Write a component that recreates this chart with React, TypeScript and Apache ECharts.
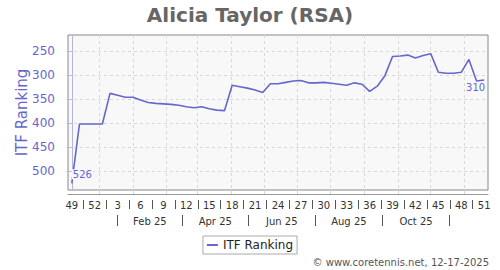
import React, { useEffect, useRef } from 'react';
import * as echarts from 'echarts';

// ---- data ----
const weekLabels = [
  '49', '50', '51', '52',
  '1', '2', '3', '4', '5', '6', '7', '8', '9', '10',
  '11', '12', '13', '14', '15', '16', '17', '18', '19', '20',
  '21', '22', '23', '24', '25', '26', '27', '28', '29', '30',
  '31', '32', '33', '34', '35', '36', '37', '38', '39', '40',
  '41', '42', '43', '44', '45', '46', '47', '48', '49', '50', '51',
];

const itfRanking = [
  526, 402, 402, 402, 402, 338, 342, 346, 346, 352,
  357, 359, 360, 361, 363, 366, 368, 366, 370, 373,
  374, 321, 324, 327, 331, 336, 318, 318, 315, 312,
  311, 316, 316, 315, 317, 319, 321, 316, 319, 334,
  323, 301, 261, 260, 258, 264, 259, 255, 294, 296,
  296, 294, 267, 312, 310,
];

const yTicks = [250, 300, 350, 400, 450, 500];
const yMin = 216;
const yMax = 540;

// date of the first weekly point, used to place month marks on the week scale
const firstWeekDate = '2024-11-20';
const monthGridDates = [
  '2024-12-15', '2025-01-15', '2025-02-15', '2025-03-15', '2025-04-15', '2025-05-15',
  '2025-06-15', '2025-07-15', '2025-08-15', '2025-09-15', '2025-10-15', '2025-11-15',
];
const monthBandStarts = ['2025-01-01', '2025-03-01', '2025-05-01', '2025-07-01', '2025-09-01', '2025-11-01'];
const monthBandLabels = ['Feb 25', 'Apr 25', 'Jun 25', 'Aug 25', 'Oct 25'];

const title = 'Alicia Taylor (RSA)';
const seriesName = 'ITF Ranking';
const footer = '\u00a9 www.coretennis.net, 12-17-2025';

// ---- derived ----
const FONT = 'DejaVu Sans';
const LINE = '#6666cc';
const AXIS_Y = '#b4b4e0';
const DAY = 86400000;
const weekPos = (d: string) => (Date.parse(d) - Date.parse(firstWeekDate)) / (7 * DAY);
const gridPos = monthGridDates.map(weekPos);
const bandPos = monthBandStarts.map(weekPos);
const bandMid = monthBandLabels.map((_, i) => (bandPos[i] + bandPos[i + 1]) / 2);
const labelStep = 3;
const rowSeps: number[] = [];
for (let i = 0; i + labelStep < weekLabels.length; i += labelStep) rowSeps.push(i + labelStep / 2);
const xMin = -0.5;
const xMax = weekLabels.length - 0.5;
const last = itfRanking.length - 1;

export default function App() {
  const ref = useRef<HTMLDivElement>(null);
  useEffect(() => {
    const chart = echarts.init(ref.current!, null, { renderer: 'svg' });
    const deco = {
      type: 'value',
      min: xMin,
      max: xMax,
      position: 'bottom',
      axisLine: { show: false },
      axisLabel: { show: false },
      splitLine: { show: false },
    };
    chart.setOption({
      animation: false,
      backgroundColor: '#ffffff',
      textStyle: { fontFamily: FONT },
      title: {
        text: title,
        left: 'center',
        top: 0,
        textStyle: { fontSize: 20, fontWeight: 'bold', color: '#666666', fontFamily: FONT },
      },
      legend: {
        data: [seriesName],
        left: 'center',
        top: 236,
        borderColor: '#aaaaaa',
        borderWidth: 1,
        borderRadius: 0,
        padding: [3, 4, 3, 4],
        icon: 'rect',
        itemWidth: 11,
        itemHeight: 2,
        textStyle: { fontSize: 12, color: '#222222', fontFamily: FONT },
      },
      grid: {
        left: 68,
        top: 35,
        right: 12,
        bottom: 80,
        show: true,
        borderColor: '#888888',
        borderWidth: 1,
        backgroundColor: '#f8f8f8',
        containLabel: false,
        outerBoundsMode: 'none',
      },
      xAxis: [
        {
          type: 'category',
          data: weekLabels,
          boundaryGap: true,
          position: 'bottom',
          offset: 4,
          axisLine: { show: true, lineStyle: { color: '#999999', width: 1 } },
          axisTick: { show: false },
          axisLabel: { interval: labelStep - 1, fontSize: 10, color: '#333333', margin: 6, fontFamily: FONT },
          splitLine: { show: false },
        },
        {
          ...deco,
          offset: 4,
          axisTick: { show: true, inside: true, length: 4, customValues: gridPos, lineStyle: { color: '#d4d4d4' } },
          splitLine: { show: true, lineStyle: { color: '#d8d8d8', type: [3, 3], width: 1 } },
        },
        {
          ...deco,
          offset: 10,
          axisTick: { show: true, length: 9, customValues: rowSeps, lineStyle: { color: '#555555' } },
        },
        {
          ...deco,
          offset: 25,
          axisTick: { show: true, length: 11, customValues: bandPos, lineStyle: { color: '#555555' } },
          axisLabel: {
            show: true,
            customValues: bandMid,
            margin: 1,
            fontSize: 10,
            color: '#333333',
            fontFamily: FONT,
            formatter: (v: number) => {
              let best = 0;
              bandMid.forEach((m, i) => { if (Math.abs(m - v) < Math.abs(bandMid[best] - v)) best = i; });
              return monthBandLabels[best];
            },
          },
        },
      ],
      yAxis: {
        type: 'value',
        inverse: true,
        min: yMin,
        max: yMax,
        offset: 5,
        name: seriesName,
        nameLocation: 'middle',
        nameGap: 34,
        nameMoveOverlap: false,
        nameTextStyle: { fontSize: 15, color: LINE, fontFamily: FONT },
        axisLine: { show: true, lineStyle: { color: AXIS_Y, width: 1 } },
        axisTick: { show: true, length: 5, customValues: yTicks, lineStyle: { color: AXIS_Y } },
        axisLabel: { customValues: yTicks, fontSize: 12, color: LINE, margin: 8, fontFamily: FONT },
        splitLine: { show: true, lineStyle: { color: '#d8d8d8', type: [3, 3], width: 1 } },
      },
      series: [
        {
          type: 'line',
          name: seriesName,
          xAxisIndex: 0,
          yAxisIndex: 0,
          data: itfRanking,
          showSymbol: false,
          symbol: 'none',
          lineStyle: { color: LINE, width: 1.6 },
          itemStyle: { color: LINE },
          markPoint: {
            symbol: 'circle',
            symbolSize: 0,
            silent: true,
            data: [
              {
                coord: [0, itfRanking[0]],
                value: itfRanking[0],
                label: {
                  show: true,
                  position: [0, -14],
                  align: 'left',
                  verticalAlign: 'top',
                  backgroundColor: '#f8f8f8',
                  padding: [0, 1, 0, 1],
                },
              },
              {
                coord: [last, itfRanking[last]],
                value: itfRanking[last],
                label: {
                  show: true,
                  position: [1, 3],
                  align: 'right',
                  verticalAlign: 'top',
                },
              },
            ],
            label: { show: true, formatter: '{c}', fontSize: 10, color: LINE, fontFamily: FONT },
          },
        },
      ],
      graphic: [
        {
          type: 'text',
          right: 11,
          top: 257,
          style: { text: footer, font: `10px "${FONT}"`, fill: '#555555' },
        },
      ],
    });
    return () => chart.dispose();
  }, []);
  return <div ref={ref} style={{ position: 'fixed', left: 0, top: 0, width: 500, height: 270 }} />;
}
